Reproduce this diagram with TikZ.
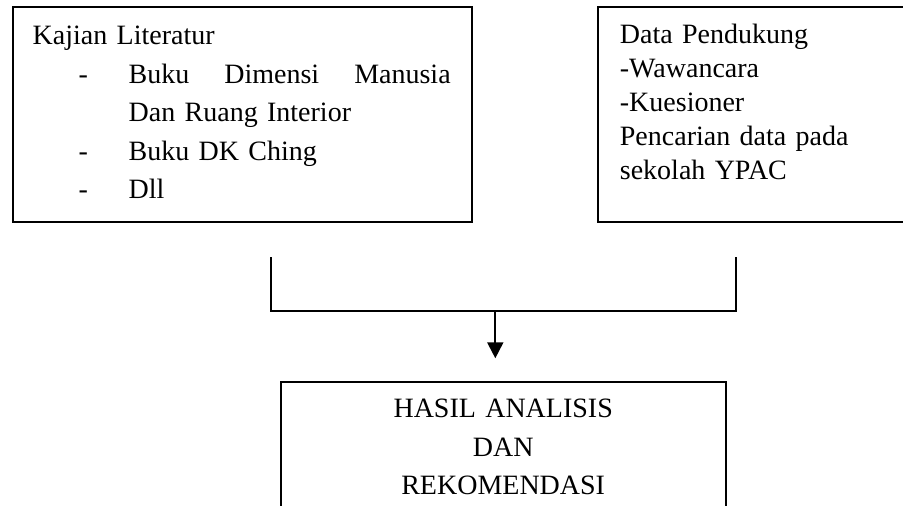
\documentclass[tikz,border=0pt]{standalone}
\usepackage{fontspec}
\setmainfont{Liberation Serif}
\usetikzlibrary{arrows.meta, positioning, calc}

\begin{document}
\begin{tikzpicture}[
    x=0.5pt, y=-0.5pt,
    box/.style={rectangle, draw, line width=1pt, outer sep=0pt, inner ysep=0pt, align=left},
    link/.style={line width=1pt},
    arrow/.style={-{Triangle[width=8pt, length=8pt]}, line width=1pt}
]
    \useasboundingbox (0,0) rectangle (903,506);
    \clip (0,0) rectangle (903,506);

    % ============================================================
    % TOP ROW: SOURCES
    % ============================================================
    \node[box, anchor=north west, inner xsep=10pt, text width=209.6pt, text height=19pt, text depth=88.5pt, font=\fontsize{14pt}{19.25pt}\selectfont] (literatur) at (12.7,7) {Kajian Literatur\\
        \hspace*{23pt}\makebox[25pt][l]{-}\hbox to 161pt{Buku\hfil Dimensi\hfil Manusia}\\
        \hspace*{48pt}Dan Ruang Interior\\
        \hspace*{23pt}\makebox[25pt][l]{-}Buku DK Ching\\
        \hspace*{23pt}\makebox[25pt][l]{-}Dll};

    \node[box, right=63pt of literatur, inner xsep=11pt, text width=170pt, text height=18.5pt, text depth=89pt, font=\fontsize{14pt}{16.9pt}\selectfont] (pendukung) {Data Pendukung\\
        -Wawancara\\
        -Kuesioner\\
        Pencarian data pada\\
        sekolah YPAC};

    % ============================================================
    % BOTTOM: RESULT
    % ============================================================
    \node[box, anchor=north, align=center, inner xsep=0pt, text width=222.5pt, text height=18pt, text depth=80pt, font=\fontsize{14pt}{19.25pt}\selectfont] (hasil) at (503.2,382) {HASIL ANALISIS\\DAN\\REKOMENDASI};

    % Connections
    \coordinate (litout) at ($(literatur.south west)+(258,35.3)$);
    \coordinate (dataout) at ($(pendukung.south west)+(138,35.3)$);
    \coordinate (hasilin) at ($(hasil.north)+(-7.9,-23.7)$);
    \coordinate (merge) at ($(hasilin |- litout)+(0,53.4)$);

    \draw[link] (litout) |- (merge) -| (dataout);
    \draw[arrow] (merge) -- (hasilin);

\end{tikzpicture}
\end{document}
